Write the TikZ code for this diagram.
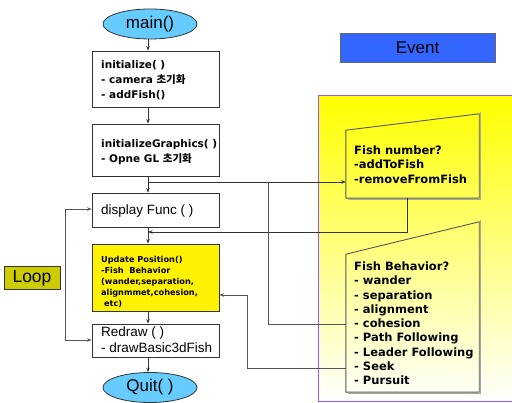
\documentclass[tikz,border=0pt]{standalone}
\usepackage{fontspec}
\setmainfont{Liberation Sans}
\newfontfamily\gul{DejaVu Sans}
\newfontfamily\kr{Noto Sans CJK KR}
\usetikzlibrary{arrows.meta,calc,shapes.geometric}
\definecolor{sky}{HTML}{66CCFF}
\definecolor{evblue}{HTML}{3366FF}
\definecolor{loopc}{HTML}{CCCC00}
\definecolor{purp}{HTML}{9955FF}
\definecolor{ln}{HTML}{333333}
\definecolor{ln2}{HTML}{555555}
\tikzset{
  oval/.style={ellipse, draw=ln, line width=0.8pt, fill=sky, minimum width=94pt, minimum height=30pt, inner sep=0pt, font=\fontsize{17}{20}\selectfont},
  box/.style={rectangle, draw=ln, line width=0.8pt, fill=white, minimum width=127pt, inner sep=0pt},
  gtext/.style={inner sep=0pt, align=left, anchor=north west, font=\gul\bfseries\fontsize{10.5}{15}\selectfont},
  utext/.style={inner sep=0pt, align=left, anchor=north west, font=\gul\bfseries\fontsize{8.2}{11}\selectfont},
  ltext/.style={inner sep=0pt, align=left, font=\fontsize{13.5}{16}\selectfont},
  ftext/.style={inner sep=0pt, align=left, anchor=north west, font=\gul\bfseries\fontsize{11.5}{14.3}\selectfont},
  arr/.style={draw=ln, line width=0.8pt, -{Stealth[length=4.5pt,width=3.5pt]}},
  conn/.style={draw=ln2, line width=0.8pt},
  conarr/.style={draw=ln2, line width=0.8pt, -{Stealth[length=4.5pt,width=3.5pt]}},
  fishline/.style={draw=ln2, line width=0.9pt},
  shadowline/.style={draw=black!35, line width=1.2pt}
}
\begin{document}
\begin{tikzpicture}[x=1pt,y=-1pt]
\useasboundingbox (0,0) rectangle (512,403);
% event region
\shade[top color=yellow, bottom color=white] (318,96) rectangle (512,402);
\draw[purp, line width=1pt] (513,96) -- (318,96) -- (318,402) -- (513,402);

% spine
\coordinate (spine) at (148,0);

% left flow
\node[oval] (main) at (150,24) {main()};
\node[box, minimum height=56pt] (init) at (155.5,79) {};
\node[gtext] (initT) at (101,60) {initialize( )\\- camera {\kr 초기화}\\- addFish()};
\node[box, minimum height=52pt] (initg) at (155.5,150) {};
\node[gtext] (initgT) at (101,139) {initializeGraphics( )\\- Opne GL {\kr 초기화}};
\node[box, minimum height=34pt] (disp) at (155.5,210) {};
\node[ltext, anchor=base west] (dispT) at (101,215) {display Func ( )};
\node[box, fill=yellow, minimum height=67pt] (upd) at (155.5,277.5) {};
\node[utext] (updT) at (101,255.8) {Update Position()\\-Fish~ Behavior\\(wander,separation,\\alignmmet,cohesion,\\\ etc)};
\node[box, minimum height=33pt] (red) at (155.5,340.5) {};
\node[ltext, anchor=north west] (redT) at (101,327) {Redraw ( )\\- drawBasic3dFish};
\node[oval] (quit) at (150,387.5) {Quit( )};

% loop label
\node[draw=ln, line width=0.8pt, fill=loopc, minimum width=56pt, minimum height=22.5pt, inner sep=0pt, font=\fontsize{17.5}{20}\selectfont] (loop) at (32,278) {Loop};
% event label
\node[draw=black!60, line width=0.8pt, fill=evblue, minimum width=155pt, minimum height=29pt, inner sep=0pt, font=\fontsize{17}{20}\selectfont] (event) at (417.5,47.5) {Event};

% fish number box
\node[inner sep=0pt, minimum width=133pt, minimum height=84pt] (fn) at (412.5,156) {};
\draw[shadowline] ([shift={(1.3,-2)}]fn.north east) -- ([shift={(1.3,1.3)}]fn.south east) -- ([shift={(2,1.3)}]fn.south west);
\draw[fishline] (fn.south west) -- (fn.south east) -- (fn.north east) -- ($(fn.south west)+(0,-68)$) -- cycle;
\node[ftext] (fnT) at (354,145.5) {Fish number?\\-addToFish\\-removeFromFish};

% fish behavior box
\node[inner sep=0pt, minimum width=133pt, minimum height=170pt] (fb) at (412.5,307) {};
\draw[shadowline] ([shift={(1.3,-2)}]fb.north east) -- ([shift={(1.3,1.3)}]fb.south east) -- ([shift={(2,1.3)}]fb.south west);
\draw[fishline] (fb.south west) -- (fb.south east) -- (fb.north east) -- ($(fb.south west)+(0,-138)$) -- cycle;
\node[ftext] (fbT) at (354,261.5) {Fish Behavior?\\- wander\\- separation\\- alignment\\- cohesion\\- Path Following\\- Leader Following\\- Seek\\- Pursuit};

% bend coordinates
\coordinate (j1) at (148,182);
\coordinate (j2) at (148,232);
\coordinate (j3) at (268,182);
\coordinate (fnb) at (407,198);
\coordinate (k1) at (247,295);
\coordinate (lt) at (65,209);
\coordinate (lb) at (65,340);

% spine arrows
\draw[arr] (main.south -| spine) -- (init.north -| spine);
\draw[arr] (init.south -| spine) -- (initg.north -| spine);
\draw[arr] (initg.south -| spine) -- (disp.north -| spine);
\draw[arr] (disp.south -| spine) -- (upd.north -| spine);
\draw[arr] (upd.south -| spine) -- (red.north -| spine);
\draw[arr] (red.south -| spine) -- (quit.north -| spine);

% event connectors
\draw[arr] (j1) -- (j1 -| fn.west);
\draw[arr] (fnb) |- (j2);
\draw[conn] (fb.west |- 0,324) -| (j3);
\draw[conarr] (fb.west |- 0,368) -| (k1) -- (k1 -| upd.east);

% loop connectors
\draw[conarr] (lb) -- (lt) -- (lt -| disp.west);
\draw[conarr] (lb) -- (lb -| red.west);
\end{tikzpicture}
\end{document}
